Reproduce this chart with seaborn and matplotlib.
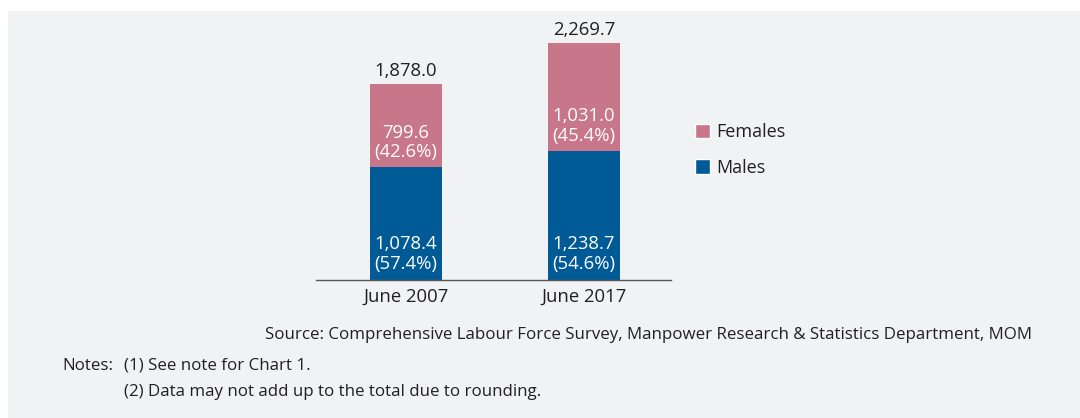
import pandas as pd
import seaborn as sns
import matplotlib.pyplot as plt
from matplotlib.patches import Patch, Rectangle

periods = ["June 2007", "June 2017"]
males = [1078.4, 1238.7]
females = [799.6, 1031.0]
totals = [1878.0, 2269.7]
male_pct = [57.4, 54.6]
female_pct = [42.6, 45.4]

df = pd.DataFrame({"Period": periods, "Males": males, "Females": females, "Total": totals})

pink = "#c87689"
blue = "#005a96"
dark = "#231f20"

sns.set_theme(style="white")
plt.rcParams["font.family"] = ["Open Sans", "DejaVu Sans"]

fig = plt.figure(figsize=(10.8, 4.18), dpi=100, facecolor="white")
fig.patches.append(Rectangle((8 / 1080, 0), 1, 1 - 11 / 418, transform=fig.transFigure,
                             facecolor="#f1f2f4", edgecolor="none", zorder=-10))

ax = fig.add_axes([316 / 1080, 1 - 280 / 418, 355 / 1080, (280 - 8.6) / 418])
ax.set_facecolor("none")

sns.barplot(data=df, x="Period", y="Total", color=pink, width=72 / 178, saturation=1,
            linewidth=0, ax=ax)
sns.barplot(data=df, x="Period", y="Males", color=blue, width=72 / 178, saturation=1,
            linewidth=0, ax=ax)

ax.set_xlim(-90 / 178, 265 / 178)
ax.set_ylim(0, 2600)
ax.set_xlabel("")
ax.set_ylabel("")
ax.set_yticks([])
for s in ["top", "right", "left"]:
    ax.spines[s].set_visible(False)
ax.spines["bottom"].set_color("#555555")
ax.spines["bottom"].set_linewidth(1.0)
ax.tick_params(axis="x", length=0, pad=5.5, labelsize=13.3, labelcolor=dark)

for i in range(len(periods)):
    ax.annotate(f"{totals[i]:,.1f}", (i, totals[i]), xytext=(0, 3), textcoords="offset points",
                ha="center", va="bottom", fontsize=13.3, color=dark)
    ax.annotate(f"{males[i]:,.1f}\n({male_pct[i]:.1f}%)", (i, 0), xytext=(0, 18.5),
                textcoords="offset points", ha="center", va="center", fontsize=13.3,
                color="white", linespacing=1.12)
    ax.annotate(f"{females[i]:,.1f}\n({female_pct[i]:.1f}%)", (i, males[i]), xytext=(0, 18),
                textcoords="offset points", ha="center", va="center", fontsize=13.3,
                color="white", linespacing=1.12)

handles = [Patch(facecolor=pink, label="Females"), Patch(facecolor=blue, label="Males")]
fig.legend(handles=handles, loc="upper left", bbox_to_anchor=(686 / 1080, 1 - 114 / 418),
           frameon=False, fontsize=13, handlelength=0.85, handleheight=0.85,
           handletextpad=0.35, labelspacing=0.98, borderpad=0, labelcolor=dark)

fig.text(1032 / 1080, 1 - 335 / 418, "Source: Comprehensive Labour Force Survey, Manpower Research & Statistics Department, MOM",
         ha="right", va="center", fontsize=12.2, color=dark)
fig.text(62 / 1080, 1 - 366 / 418, "Notes:", ha="left", va="center", fontsize=12.2, color=dark)
fig.text(124 / 1080, 1 - 366 / 418, "(1) See note for Chart 1.", ha="left", va="center", fontsize=12.2, color=dark)
fig.text(124 / 1080, 1 - 392 / 418, "(2) Data may not add up to the total due to rounding.", ha="left", va="center",
         fontsize=12.2, color=dark)

fig.savefig("out.png", dpi=100, facecolor=fig.get_facecolor())
